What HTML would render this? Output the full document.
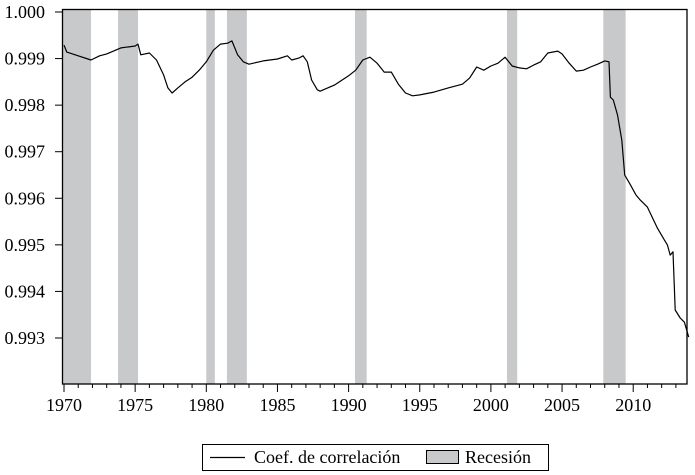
<!DOCTYPE html>
<html><head><meta charset="utf-8"><style>
html,body{margin:0;padding:0;background:#fff;}
svg{display:block;}
svg text{font-family:"Liberation Serif","Times New Roman",serif;}
</style></head><body>
<svg id="chart" width="695" height="475">
<g id="rec"></g>
<g id="line"></g>
<rect x="62.5" y="9.5" width="624.5" height="374.5" fill="none" stroke="#000" stroke-width="1.3"/>
<g id="yax"></g>
<g id="xax"></g>
<g>
<rect x="202.5" y="444.5" width="346" height="26" fill="#fff" stroke="#000" stroke-width="1"/>
<line x1="210" y1="457.5" x2="245" y2="457.5" stroke="#000" stroke-width="1.2"/>
<text x="254" y="463" font-size="18" font-family="Liberation Serif, serif">Coef. de correlación</text>
<rect x="426.5" y="450.5" width="32" height="13" fill="#c8c9cb" stroke="#000" stroke-width="1"/>
<text x="465" y="463" font-size="18" font-family="Liberation Serif, serif">Recesión</text>
</g>
</svg>
<script>
const recStart=[1969.9,1973.8,1980.0,1981.45,1990.45,2001.13,2007.9];
const recEnd=[1971.9,1975.2,1980.6,1982.85,1991.27,2001.85,2009.47];
const years=[1970.0,1970.2,1971,1971.9,1972.5,1973,1974,1975,1975.2,1975.4,1976,1976.5,1977,1977.3,1977.6,1978,1978.5,1979,1979.5,1980,1980.5,1981,1981.5,1981.8,1982.2,1982.6,1983,1984,1985,1985.7,1986,1986.5,1986.8,1987.1,1987.4,1987.8,1988,1989,1990,1990.5,1991,1991.5,1992,1992.5,1993,1993.5,1994,1994.5,1995,1996,1997,1998,1998.5,1999,1999.5,2000,2000.5,2001,2001.5,2002,2002.5,2003,2003.5,2004,2004.7,2005,2005.5,2006,2006.5,2007,2007.5,2008,2008.3,2008.4,2008.6,2008.9,2009.2,2009.4,2009.8,2010.2,2010.5,2011,2011.7,2012.2,2012.4,2012.6,2012.8,2012.95,2013.3,2013.6,2013.9];
const values=[0.99929,0.99914,0.99906,0.99897,0.99906,0.99910,0.99923,0.99927,0.99931,0.99908,0.99912,0.99897,0.99865,0.99837,0.99826,0.99837,0.99850,0.99860,0.99875,0.99893,0.99918,0.99931,0.99933,0.99938,0.99908,0.99893,0.99888,0.99895,0.99899,0.99906,0.99897,0.99901,0.99906,0.99893,0.99854,0.99833,0.99830,0.99843,0.99863,0.99875,0.99897,0.99903,0.99890,0.99871,0.99871,0.99845,0.99826,0.99820,0.99822,0.99828,0.99837,0.99845,0.99858,0.99882,0.99875,0.99884,0.99890,0.99903,0.99884,0.99880,0.99878,0.99886,0.99893,0.99912,0.99916,0.99910,0.99890,0.99873,0.99875,0.99882,0.99888,0.99895,0.99893,0.99817,0.99811,0.99779,0.99725,0.99650,0.99629,0.99607,0.99596,0.99581,0.99536,0.99510,0.99500,0.99478,0.99485,0.99360,0.99343,0.99334,0.99302];
const yTicks=[1.000,0.999,0.998,0.997,0.996,0.995,0.994,0.993];
const xTicks=[1970,1975,1980,1985,1990,1995,2000,2005,2010];
const NS='http://www.w3.org/2000/svg';
function X(yr){return 64+14.23*(yr-1970);}
function Y(v){return 12+(1-v)*46570;}
function mk(t,a,p){const e=document.createElementNS(NS,t);for(const k in a)e.setAttribute(k,a[k]);p.appendChild(e);return e;}
const rec=document.getElementById('rec');
recStart.forEach((s,i)=>{
  const x0=Math.max(62.5,X(s)),x1=X(recEnd[i]);
  const r=mk('rect',{x:x0,y:9.5,width:x1-x0,height:374.5,fill:'#c8c9cb'},rec);
  
  
});
const lg=document.getElementById('line');
const p=mk('path',{d:years.map((y,i)=>(i?'L':'M')+X(y).toFixed(1)+','+Y(values[i]).toFixed(1)).join(''),fill:'none',stroke:'#000','stroke-width':1.2,'stroke-linejoin':'round'},lg);


const ya=document.getElementById('yax');
yTicks.forEach(v=>{
  const y=Y(v);
  mk('line',{x1:55,x2:62.5,y1:y,y2:y,stroke:'#000','stroke-width':1},ya);
  const t=mk('text',{x:45,y:y+6,'font-size':18,'text-anchor':'end','font-family':'Liberation Serif, serif'},ya);
  t.textContent=v.toFixed(3);
  
  
});
const xa=document.getElementById('xax');
for(let yr=1970;yr<=2013;yr++){
  const x=X(yr);const major=yr%5===0;
  mk('line',{x1:x,x2:x,y1:384,y2:major?392:388,stroke:'#000','stroke-width':1},xa);
}
xTicks.forEach(yr=>{
  const t=mk('text',{x:X(yr),y:411,'font-size':18,'text-anchor':'middle','font-family':'Liberation Serif, serif'},xa);
  t.textContent=yr;
  
  
});
</script>
</body></html>
